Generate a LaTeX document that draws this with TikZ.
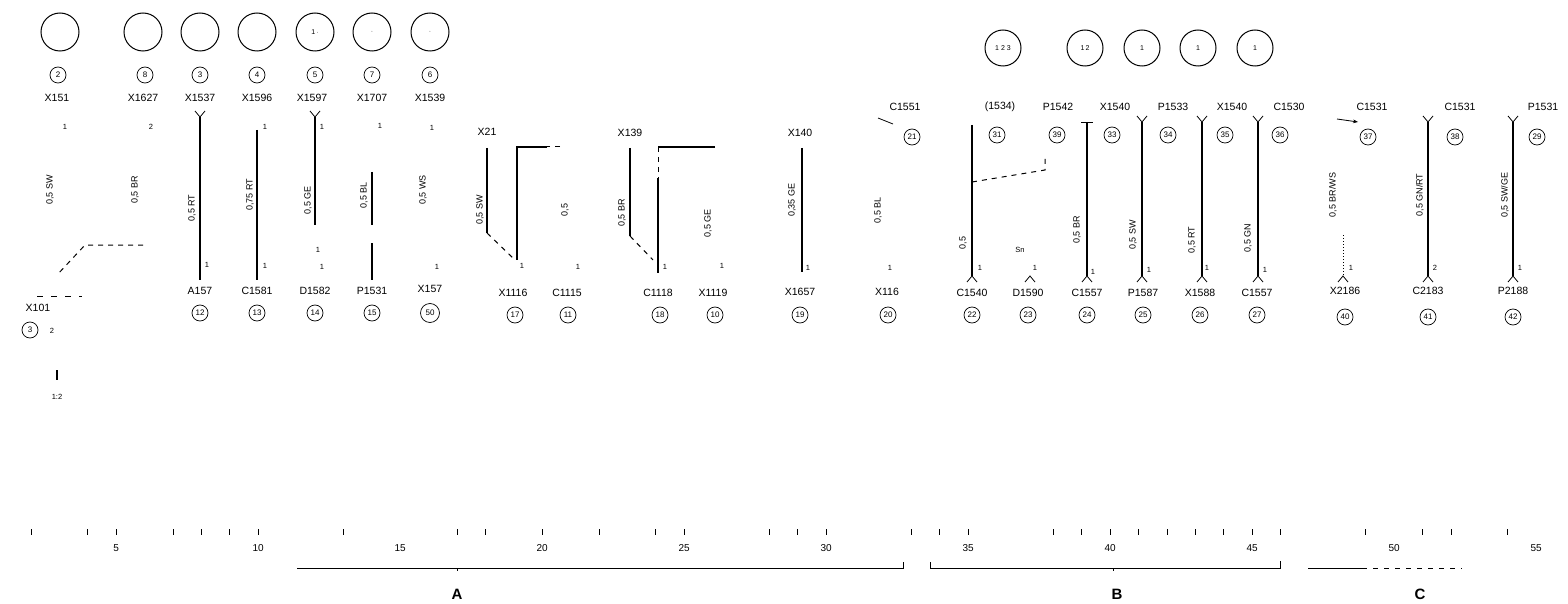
\documentclass[tikz,border=0pt]{standalone}
\usepackage{fontspec}
\setmainfont{Liberation Sans}
\usetikzlibrary{arrows.meta}
\begin{document}
\begin{tikzpicture}[x=1pt,y=-1pt,
 wire/.style={line width=1.3pt},
 dwire/.style={line width=1pt,dash pattern=on 5pt off 5pt},
 lbl/.style={inner sep=0pt,font=\fontsize{10.5}{11}\selectfont},
 rlbl/.style={inner sep=0pt,rotate=90,font=\fontsize{9}{9}\selectfont},
 pinno/.style={inner sep=0pt,font=\fontsize{7.5}{7.5}\selectfont},
 cnum/.style={circle,draw,line width=0.7pt,inner sep=0pt,minimum size=16pt,font=\fontsize{8}{8}\selectfont},
 conn/.style={circle,draw,line width=1pt,minimum size=38pt,inner sep=0pt,font=\fontsize{7}{7}\selectfont},
 tk/.style={line width=1pt},
 scl/.style={inner sep=0pt,font=\fontsize{10}{10}\selectfont},
 grp/.style={inner sep=0pt,font=\fontsize{15}{15}\selectfont\bfseries},
 forkup/.pic={\draw[line width=0.8pt] (-5,-6) -- (0,0) -- (5,-6);},
 forkdn/.pic={\draw[line width=0.8pt] (-5,6) -- (0,0) -- (5,6);}
]
\useasboundingbox (0,0) rectangle (1568,604);

% ---------------- left group: connector faces
\node[conn] (K1) at (60,32) {};
\node[conn] (K2) at (143,32) {};
\node[conn] (K3) at (200,32) {};
\node[conn] (K4) at (257,32) {};
\node[conn] (K5) at (315,32) {1\,$\cdot$};
\node[conn] (K6) at (372,32) {$\cdot$};
\node[conn] (K7) at (430,32) {$\cdot$};

% top circled numbers and labels
\node[cnum] (n1) at (58,75) {2};
\node[cnum] (n2) at (145,75) {8};
\node[cnum] (n3) at (200,75) {3};
\node[cnum] (n4) at (257,75) {4};
\node[cnum] (n5) at (315,75) {5};
\node[cnum] (n6) at (372,75) {7};
\node[cnum] (n7) at (430,75) {6};
\node[lbl] (t1) at (57,98) {X151};
\node[lbl] (t2) at (143,98) {X1627};
\node[lbl] (t3) at (200,98) {X1537};
\node[lbl] (t4) at (257,98) {X1596};
\node[lbl] (t5) at (312,98) {X1597};
\node[lbl] (t6) at (372,98) {X1707};
\node[lbl] (t7) at (430,98) {X1539};
\node[pinno] (p1) at (65,127) {1};
\node[pinno] (p2) at (151,127) {2};
\node[pinno] (p4) at (265,127) {1};
\node[pinno] (p5) at (322,127) {1};
\node[pinno] (p6) at (380,126) {1};
\node[pinno] (p7) at (432,128) {1};

% wire specs
\node[rlbl] (w1) at (50,190) {0,5 SW};
\node[rlbl] (w2) at (135,190) {0,5 BR};
\node[rlbl] (w3) at (192,208) {0,5 RT};
\node[rlbl] (w4) at (250,195) {0,75 RT};
\node[rlbl] (w5) at (308,200) {0,5 GE};
\node[rlbl] (w6) at (364,195) {0,5 BL};
\node[rlbl] (w7) at (423,190) {0,5 WS};

% wires
\coordinate (a3t) at (200,117); \coordinate (a3b) at (200,280);
\coordinate (a4t) at (257,130); \coordinate (a4b) at (257,280);
\coordinate (a5t) at (315,117); \coordinate (a5b) at (315,225);
\coordinate (a6t) at (372,172); \coordinate (a6m) at (372,225);
\coordinate (a6n) at (372,243); \coordinate (a6b) at (372,280);
\pic at (a3t) {forkup};
\pic at (a5t) {forkup};
\draw[wire] (a3t) -- (a3b);
\draw[wire] (a4t) -- (a4b);
\draw[wire] (a5t) -- (a5b);
\draw[wire] (a6t) -- (a6m);
\draw[wire] (a6n) -- (a6b);
\node[pinno] (q3) at (207,265) {1};
\node[pinno] (q4) at (265,266) {1};
\node[pinno] (q5a) at (318,250) {1};
\node[pinno] (q5b) at (322,267) {1};
\node[pinno] (q7) at (437,267) {1};

% dashed route to X101
\coordinate (d1) at (143,245); \coordinate (d2) at (85,245); \coordinate (d3) at (57,275);
\draw[dwire] (d1) -- (d2) -- (d3);
\coordinate (e1) at (37,296); \coordinate (e2) at (82,296);
\draw[line width=0.8pt,dash pattern=on 6pt off 8pt] (e1) -- (e2);
\node[lbl] (x101) at (38,308) {X101};
\node[cnum] (n101) at (30,330) {3};
\node[pinno] (s101) at (52,331) {2};
\coordinate (f1) at (57,370); \coordinate (f2) at (57,380);
\draw[wire] (f1) -- (f2);
\node[pinno] (r101) at (57,397) {1:2};

% bottom labels left group
\node[lbl] (b3) at (200,291) {A157};
\node[lbl] (b4) at (257,291) {C1581};
\node[lbl] (b5) at (315,291) {D1582};
\node[lbl] (b6) at (372,291) {P1531};
\node[lbl] (b7) at (430,289) {X157};
\node[cnum] (m3) at (200,313) {12};
\node[cnum] (m4) at (257,313) {13};
\node[cnum] (m5) at (315,313) {14};
\node[cnum] (m6) at (372,313) {15};
\node[cnum,minimum size=19pt] (m7) at (430,313) {50};

% ---------------- middle group
\node[lbl] (t8) at (487,132) {X21};
\node[lbl] (t10) at (630,133) {X139};
\node[lbl] (t12) at (800,133) {X140};
\coordinate (g8a) at (487,148); \coordinate (g8b) at (487,233);
\coordinate (g8c) at (515,260);
\coordinate (h8a) at (560,147); \coordinate (h8b) at (547,147);
\coordinate (h8c) at (517,147); \coordinate (h8d) at (517,260);
\draw[wire] (g8a) -- (g8b);
\draw[dwire] (g8b) -- (g8c);
\draw[dwire] (h8a) -- (h8b);
\draw[wire] (h8b) -- (h8c) -- (h8d);
\node[rlbl] (w8) at (480,210) {0,5 SW};
\node[rlbl] (w9) at (565,210) {0,5};
\node[pinno] (q8) at (522,266) {1};
\node[pinno] (q9) at (578,267) {1};
\node[lbl] (b8) at (513,293) {X1116};
\node[lbl] (b9) at (567,293) {C1115};
\node[cnum] (m8) at (515,315) {17};
\node[cnum] (m9) at (568,315) {11};

\coordinate (g10a) at (630,148); \coordinate (g10b) at (630,236);
\coordinate (g10c) at (653,260);
\coordinate (h10a) at (715,147); \coordinate (h10b) at (658,147);
\coordinate (h10c) at (658,178); \coordinate (h10d) at (658,273);
\draw[wire] (g10a) -- (g10b);
\draw[dwire] (g10b) -- (g10c);
\draw[wire] (h10a) -- (h10b);
\draw[dwire] (h10b) -- (h10c);
\draw[wire] (h10c) -- (h10d);
\node[rlbl] (w10) at (622,213) {0,5 BR};
\node[rlbl] (w11) at (708,223) {0,5 GE};
\node[pinno] (q10) at (665,267) {1};
\node[pinno] (q11) at (722,266) {1};
\node[lbl] (b10) at (658,293) {C1118};
\node[lbl] (b11) at (713,293) {X1119};
\node[cnum] (m10) at (660,315) {18};
\node[cnum] (m11) at (715,315) {10};

\coordinate (g12a) at (802,148); \coordinate (g12b) at (802,272);
\draw[wire] (g12a) -- (g12b);
\node[rlbl] (w12) at (792,200) {0,35 GE};
\node[pinno] (q12) at (808,268) {1};
\node[lbl] (b12) at (800,292) {X1657};
\node[cnum] (m12) at (800,315) {19};

\node[rlbl] (w13) at (878,210) {0,5 BL};
\node[pinno] (q13) at (890,268) {1};
\node[lbl] (b13) at (887,292) {X116};
\node[cnum] (m13) at (888,315) {20};
\node[lbl] (t13) at (905,107) {C1551};
\node[cnum] (n13) at (912,137) {21};
\coordinate (u13a) at (878,118); \coordinate (u13b) at (893,124);
\draw[line width=0.8pt] (u13a) -- (u13b);

% ---------------- right group: connector faces
\node[conn,minimum size=36pt] (R1) at (1003,48) {1 2 3};
\node[conn,minimum size=36pt] (R2) at (1085,48) {1\,2};
\node[conn,minimum size=36pt] (R3) at (1142,48) {1};
\node[conn,minimum size=36pt] (R4) at (1198,48) {1};
\node[conn,minimum size=36pt] (R5) at (1255,48) {1};

\node[lbl] (t21) at (1000,107) {(1534)};
\node[lbl] (t22) at (1058,107) {P1542};
\node[lbl] (t23) at (1115,107) {X1540};
\node[lbl] (t24) at (1173,107) {P1533};
\node[lbl] (t25) at (1232,107) {X1540};
\node[lbl] (t26) at (1289,107) {C1530};
\node[cnum] (n21) at (997,135) {31};
\node[cnum] (n22) at (1057,135) {39};
\node[cnum] (n23) at (1112,135) {33};
\node[cnum] (n24) at (1168,135) {34};
\node[cnum] (n25) at (1225,135) {35};
\node[cnum] (n26) at (1280,135) {36};

\coordinate (v1t) at (972,125); \coordinate (v1b) at (972,276);
\coordinate (v3t) at (1087,122); \coordinate (v3b) at (1087,276);
\coordinate (v4t) at (1142,122); \coordinate (v4b) at (1142,276);
\coordinate (v5t) at (1202,122); \coordinate (v5b) at (1202,276);
\coordinate (v6t) at (1258,122); \coordinate (v6b) at (1258,276);
\coordinate (v2b) at (1030,276);
\draw[wire] (v1t) -- (v1b);
\draw[wire] (v3t) -- (v3b);
\draw[line width=0.8pt] (1081,122) -- (1093,122);
\draw[wire] (v4t) -- (v4b);
\draw[wire] (v5t) -- (v5b);
\draw[wire] (v6t) -- (v6b);
\pic at (v4t) {forkup};
\pic at (v5t) {forkup};
\pic at (v6t) {forkup};
\foreach \c in {v1b,v2b,v3b,v4b,v5b,v6b} \pic at (\c) {forkdn};
\coordinate (j1) at (972,182); \coordinate (j2) at (1045,170); \coordinate (j3) at (1045,155);
\draw[dwire] (j1) -- (j2) -- (j3);

\node[rlbl] (w21) at (963,243) {0,5};
\node[pinno] (w22) at (1020,250) {Sn};
\node[rlbl] (w23) at (1077,230) {0,5 BR};
\node[rlbl] (w24) at (1133,235) {0,5 SW};
\node[rlbl] (w25) at (1192,240) {0,5 RT};
\node[rlbl] (w26) at (1248,238) {0,5 GN};
\node[pinno] (q21) at (980,268) {1};
\node[pinno] (q22) at (1035,268) {1};
\node[pinno] (q23) at (1093,272) {1};
\node[pinno] (q24) at (1149,270) {1};
\node[pinno] (q25) at (1207,268) {1};
\node[pinno] (q26) at (1265,270) {1};

\node[lbl] (b21) at (972,293) {C1540};
\node[lbl] (b22) at (1028,293) {D1590};
\node[lbl] (b23) at (1087,293) {C1557};
\node[lbl] (b24) at (1143,293) {P1587};
\node[lbl] (b25) at (1200,293) {X1588};
\node[lbl] (b26) at (1257,293) {C1557};
\node[cnum] (m21) at (972,315) {22};
\node[cnum] (m22) at (1028,315) {23};
\node[cnum] (m23) at (1087,315) {24};
\node[cnum] (m24) at (1143,315) {25};
\node[cnum] (m25) at (1200,315) {26};
\node[cnum] (m26) at (1257,315) {27};

% ---------------- far right group
\node[lbl] (t31) at (1372,107) {C1531};
\node[lbl] (t32) at (1460,107) {C1531};
\node[lbl] (t33) at (1543,107) {P1531};
\node[cnum] (n31) at (1368,137) {37};
\node[cnum] (n32) at (1455,137) {38};
\node[cnum] (n33) at (1537,137) {29};
\coordinate (y1a) at (1337,119); \coordinate (y1b) at (1358,122);
\draw[line width=0.8pt,-{Stealth[length=5pt]}] (y1a) -- (y1b);
\coordinate (y1t) at (1343,235); \coordinate (y1e) at (1343,276);
\draw[line width=1pt,dotted] (y1t) -- (y1e);
\coordinate (y2t) at (1428,122); \coordinate (y2b) at (1428,276);
\coordinate (y3t) at (1513,122); \coordinate (y3b) at (1513,276);
\draw[wire] (y2t) -- (y2b);
\draw[wire] (y3t) -- (y3b);
\pic at (y2t) {forkup};
\pic at (y3t) {forkup};
\foreach \c in {y1e,y2b,y3b} \pic at (\c) {forkdn};
\node[rlbl] (w31) at (1333,195) {0,5 BR/WS};
\node[rlbl] (w32) at (1420,195) {0,5 GN/RT};
\node[rlbl] (w33) at (1505,195) {0,5 SW/GE};
\node[pinno] (q31) at (1351,268) {1};
\node[pinno] (q32) at (1435,268) {2};
\node[pinno] (q33) at (1520,268) {1};
\node[lbl] (b31) at (1345,291) {X2186};
\node[lbl] (b32) at (1428,291) {C2183};
\node[lbl] (b33) at (1513,291) {P2188};
\node[cnum] (m31) at (1345,317) {40};
\node[cnum] (m32) at (1428,317) {41};
\node[cnum] (m33) at (1513,317) {42};

% ---------------- scale
\foreach \u in {2,4,5,7,8,9,10,13,17,18,20,22,24,25,28,29,30,33,34,35,38,39,40,41,42,43,44,45,46,49,51,52,54}
  \draw[tk] ({28.4*\u-25.8},529) -- ({28.4*\u-25.8},535);
\foreach \u in {5,10,...,55}
  \node[scl] (s\u) at ({28.4*\u-25.8},548) {\u};
\coordinate (A0) at (297,568); \coordinate (A1) at (903,568); \coordinate (A2) at (903,562);
\coordinate (Am) at (457,568); \coordinate (Am2) at (457,571);
\draw[line width=1pt] (A0) -- (A1) -- (A2);
\draw[line width=1pt] (Am) -- (Am2);
\node[grp] (LA) at (457,594) {A};
\coordinate (B0) at (930,562); \coordinate (B1) at (930,568);
\coordinate (B2) at (1280,568); \coordinate (B3) at (1280,561);
\coordinate (Bm) at (1113,568); \coordinate (Bm2) at (1113,571);
\draw[line width=1pt] (B0) -- (B1) -- (B2) -- (B3);
\draw[line width=1pt] (Bm) -- (Bm2);
\node[grp] (LB) at (1117,594) {B};
\coordinate (C0) at (1308,568); \coordinate (C1) at (1362,568); \coordinate (C2) at (1462,568);
\draw[line width=1pt] (C0) -- (C1);
\draw[line width=1pt,dash pattern=on 5pt off 6pt] (C1) -- (C2);
\node[grp] (LC) at (1420,594) {C};
\end{tikzpicture}
\end{document}
